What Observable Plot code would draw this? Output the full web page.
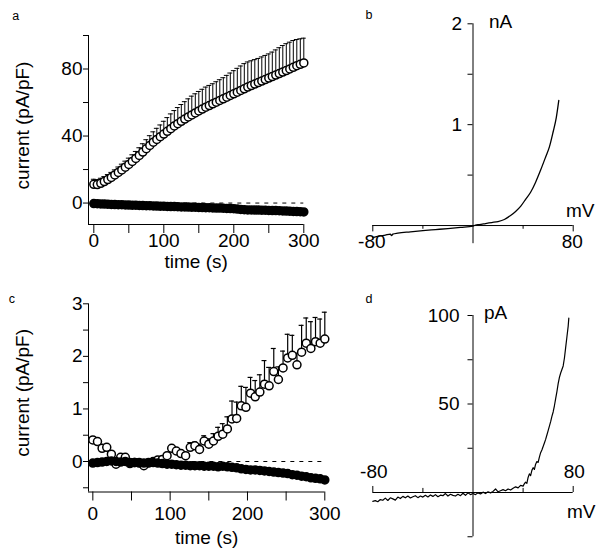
<!DOCTYPE html>
<html><head><meta charset="utf-8">
<script src="https://cdn.jsdelivr.net/npm/d3@7"></script>
<script src="https://cdn.jsdelivr.net/npm/@observablehq/plot@0.6"></script>
<style>
body{margin:0;background:#fff;}
#chart{position:relative;width:604px;height:556px;background:#fff;}
#chart svg{position:absolute;left:0;top:0;}
</style></head><body><div id="chart"></div>
<script>
// ---------- Panel a data ----------
const timeA = [0,5,10,15,20,25,30,35,40,45,50,55,60,65,70,75,80,85,90,95,100,105,110,115,120,125,130,135,140,145,150,155,160,165,170,175,180,185,190,195,200,205,210,215,220,225,230,235,240,245,250,255,260,265,270,275,280,285,290,295,300];
const openA = [11.2,11.0,11.8,12.8,14.0,15.3,16.8,18.3,19.8,21.4,23.0,24.8,26.6,28.4,30.4,32.4,34.4,36.3,38.0,39.6,41.2,42.8,44.4,46.0,47.4,48.8,50.1,51.4,52.6,53.8,55.0,56.1,57.2,58.2,59.2,60.2,61.2,62.2,63.2,64.2,65.2,66.2,67.2,68.2,69.2,70.1,71.0,71.9,72.8,73.7,74.6,75.5,76.4,77.3,78.2,79.1,80.0,81.0,82.0,82.8,83.6];
const seA = [3,3,3,3,3,3,3,3.2,3.4,3.6,3.8,4,4.2,4.6,5,5.4,5.8,6.2,6.6,7,7.6,8.2,8.8,9.2,9.6,10,10.4,10.8,11.2,11.4,11.6,11.8,12,12,12,12.2,12.4,12.6,13,13.4,13.8,14.2,14.6,15,15,14.8,14.6,14.4,14.4,14.4,14.4,14.6,15,15.4,15.8,16,16,16,15.6,15.2,14.8];
const filledA = [-0.3,-0.4,-0.5,-0.6,-0.7,-0.8,-0.9,-1.0,-1.0,-1.1,-1.2,-1.3,-1.3,-1.4,-1.5,-1.6,-1.6,-1.7,-1.8,-1.9,-1.9,-2.0,-2.1,-2.1,-2.2,-2.3,-2.3,-2.4,-2.5,-2.5,-2.6,-2.7,-2.8,-2.8,-2.9,-3.0,-3.0,-3.1,-3.2,-3.3,-3.4,-3.6,-3.8,-4.0,-4.1,-4.1,-4.2,-4.2,-4.3,-4.3,-4.4,-4.5,-4.5,-4.6,-4.7,-4.8,-4.9,-5.0,-5.1,-5.2,-5.3];
const tickA_x = [0,50,100,150,200,250,300];
const tickA_y = [0,20,40,60,80,100];

// ---------- Panel c data ----------
const timeC = [0,6,12,18,24,30,36,42,48,54,60,66,72,78,84,90,96,102,108,114,120,126,132,138,144,150,156,162,168,174,180,186,192,198,204,210,216,222,228,234,240,246,252,258,264,270,276,282,288,294,300];
const openC = [0.41,0.38,0.25,0.27,0.14,-0.05,0.08,0.08,-0.04,-0.02,-0.02,-0.08,-0.02,0.0,0.03,0.04,0.11,0.25,0.2,0.15,0.11,0.27,0.3,0.23,0.39,0.33,0.39,0.48,0.52,0.62,0.81,0.82,1.06,1.03,1.30,1.23,1.32,1.47,1.44,1.71,1.56,1.78,1.97,2.02,1.84,2.08,2.25,2.15,2.28,2.25,2.33];
const seC = [0.03,0.03,0.03,0.03,0.03,0.03,0.03,0.03,0.03,0.03,0.03,0.03,0.03,0.03,0.03,0.03,0.03,0.03,0.03,0.03,0.05,0.09,0.07,0.1,0.1,0.1,0.14,0.17,0.2,0.23,0.34,0.31,0.37,0.38,0.3,0.31,0.33,0.45,0.35,0.44,0.24,0.32,0.45,0.38,0.22,0.51,0.48,0.51,0.46,0.46,0.51];
const filledC = [-0.03,-0.02,-0.01,0.0,0.01,0.0,-0.01,0.0,-0.02,-0.02,-0.03,-0.03,-0.03,-0.02,-0.03,-0.04,-0.05,-0.05,-0.06,-0.07,-0.07,-0.08,-0.08,-0.08,-0.09,-0.09,-0.09,-0.1,-0.09,-0.1,-0.11,-0.12,-0.14,-0.15,-0.16,-0.16,-0.17,-0.18,-0.19,-0.2,-0.21,-0.22,-0.23,-0.25,-0.26,-0.28,-0.29,-0.31,-0.32,-0.33,-0.35];
const tickC_x = [0,50,100,150,200,250,300];
const tickC_y = [-0.5,0,0.5,1,1.5,2,2.5,3];

// ---------- Panel b data ----------
const mvB = [-80,-75,-70,-66,-65,-64,-60,-50,-40,-30,-20,-10,0,2,5,10,15,20,25,30,34,38,42,46,50,54,58,61,64,66.5,68.5];
const naB = [-0.12,-0.105,-0.095,-0.085,-0.1,-0.085,-0.075,-0.062,-0.05,-0.04,-0.03,-0.018,-0.005,0.005,0.01,0.02,0.03,0.04,0.06,0.1,0.14,0.19,0.26,0.33,0.43,0.55,0.68,0.78,0.93,1.07,1.24];
const tickB_y = [0.5,1,1.5,2];
const labelB_y = [1,2];
const tickB_x = [-80,-40,40,80];
const labelB_x = [-80,80];

// ---------- Panel d data ----------
const mvD = [-80,-78,-76,-74,-72,-70,-68,-66,-64,-62,-60,-58,-56,-54,-52,-50,-48,-46,-44,-42,-40,-38,-36,-34,-32,-30,-28,-26,-24,-22,-20,-18,-16,-14,-12,-10,-8,-6,-4,-2,0,2,4,6,8,10,12,14,16,18,20,22,24,26,28,30,32,34,36,38,40,41,42,43,44,45,46,47,48,49,50,51,52,53,54,55,56,57,58,59,60,61,62,63,64,65,66,67,68,69,70,71,72,73,74,75,76,76.5];
const paD = [-5.0,-4.6,-5.2,-4.0,-4.4,-3.2,-4.5,-3.0,-3.6,-4.3,-2.6,-3.4,-2.2,-3.0,-2.0,-3.1,-2.4,-1.8,-2.9,-2.0,-2.6,-1.6,-2.5,-1.4,-2.2,-1.2,-2.4,-1.5,-1.8,-0.6,-2.0,-1.0,-1.6,-2.0,-1.0,-1.8,-0.4,-1.6,-0.2,-1.2,-0.6,-1.2,-0.2,-0.8,0.2,-0.6,0.4,-0.2,0.6,2.0,0.4,1.0,1.6,1.0,2.0,1.4,2.4,3.2,2.6,4.0,3.6,5.0,5.8,5.2,8.5,10.5,9.5,12.5,14.0,13.0,16.0,17.5,17.0,20.0,22.5,24.0,26.0,28.0,30.0,32.5,35.0,37.5,40.0,43.0,45.5,49.0,53.0,57.0,61.5,65.0,67.5,69.5,71.5,76.0,82.0,88.0,94.0,98.5];
const tickD_y = [-25,25,50,75,100];
const labelD_y = [50,100];
const tickD_x = [-80,-40,40,80];
const labelD_x = [-80,80];

// ---------- build ----------
const FONT = "'Liberation Sans', Arial, Helvetica, sans-serif";
const FS = 19;
const common = {width: 604, height: 556,
  style: {background: "transparent", fontFamily: FONT, fontSize: FS + "px", color: "black", overflow: "visible"}};
const T = {textAnchor: "middle", lineAnchor: "middle"};

const rowsA = timeA.map((t, i) => ({t, open: openA[i], se: seA[i], filled: filledA[i]}));
const rowsC = timeC.map((t, i) => ({t, open: openC[i], se: seC[i], filled: filledC[i]}));
const rowsB = mvB.map((v, i) => ({v, c: naB[i]}));
const rowsD = mvD.map((v, i) => ({v, c: paD[i]}));

const XA = [-7.6, 300], YA = [-12.8, 100];
const plotA = Plot.plot({
  ...common,
  marginLeft: 88, marginRight: 604 - 303.3, marginTop: 35, marginBottom: 556 - 224,
  x: {domain: XA, ticks: tickA_x, tickFormat: d => d % 100 === 0 ? String(d) : "", tickSize: 9, tickPadding: 0, label: null},
  y: {domain: YA, ticks: tickA_y, tickFormat: d => d % 40 === 0 ? String(d) : "", tickSize: 5, tickPadding: 1, label: null},
  marks: [
    Plot.ruleX([XA[0]], {y1: YA[0], y2: YA[1]}),
    Plot.ruleY([YA[0]], {x1: XA[0], x2: XA[1]}),
    Plot.ruleY([0], {x1: 0, x2: 300, strokeDasharray: "4,5"}),
    Plot.dot(rowsA, {x: "t", y: "filled", r: 4, fill: "black", stroke: "black"}),
    Plot.ruleX(rowsA, {x: "t", y1: "open", y2: d => d.open + d.se}),
    Plot.ruleY(rowsA, {y: d => d.open + d.se, x1: d => d.t - 3.5, x2: d => d.t + 3.5}),
    Plot.dot(rowsA, {x: "t", y: "open", r: 4, fill: "white", stroke: "black"}),
    Plot.text(["current (pA/pF)"], {...T, text: d => d, frameAnchor: "left", rotate: -90, dx: -66, dy: -4.5, fontSize: FS}),
    Plot.text(["time (s)"], {...T, text: d => d, frameAnchor: "bottom", dy: 37, fontSize: FS}),
    Plot.text(["a"], {...T, textAnchor: "start", text: d => d, frameAnchor: "top-left", dx: -76.3, dy: -19.6, fontSize: 12.5})
  ]
});

const XC = [-5.6, 300], YC = [-0.58, 3];
const plotC = Plot.plot({
  ...common,
  marginLeft: 88, marginRight: 604 - 324.3, marginTop: 303.3, marginBottom: 556 - 491.5,
  x: {domain: XC, ticks: tickC_x, tickFormat: d => d % 100 === 0 ? String(d) : "", tickSize: 9, tickPadding: 5, label: null},
  y: {domain: YC, ticks: tickC_y, tickFormat: d => Number.isInteger(d) ? String(d) : "", tickSize: 5, tickPadding: 1, label: null},
  marks: [
    Plot.ruleX([XC[0]], {y1: YC[0], y2: YC[1]}),
    Plot.ruleY([YC[0]], {x1: XC[0], x2: XC[1]}),
    Plot.ruleY([0], {x1: 0, x2: 300, strokeDasharray: "4,5"}),
    Plot.ruleX(rowsC, {x: "t", y1: "open", y2: d => d.open + d.se, strokeWidth: 1.2}),
    Plot.ruleY(rowsC, {y: d => d.open + d.se, x1: d => d.t - 3.2, x2: d => d.t + 3.2, strokeWidth: 1.2}),
    Plot.dot(rowsC, {x: "t", y: "open", r: 4, fill: "white", stroke: "black"}),
    Plot.dot(rowsC, {x: "t", y: "filled", r: 4, fill: "black", stroke: "black"}),
    Plot.text(["current (pA/pF)"], {...T, text: d => d, frameAnchor: "left", rotate: -90, dx: -66, dy: -5, fontSize: FS}),
    Plot.text(["time (s)"], {...T, text: d => d, frameAnchor: "bottom", dy: 45.5, fontSize: FS}),
    Plot.text(["c"], {...T, textAnchor: "start", text: d => d, frameAnchor: "top-left", dx: -79.7, dy: -5.3, fontSize: 12.5})
  ]
});

const YB = [-0.18, 2];
const plotB = Plot.plot({
  ...common,
  marginLeft: 372.3, marginRight: 604 - 572.7, marginTop: 23.3, marginBottom: 556 - 243.2,
  x: {domain: [-80, 80], axis: null},
  y: {domain: YB, axis: null},
  marks: [
    Plot.ruleX([0], {y1: YB[0], y2: YB[1]}),
    Plot.ruleY(tickB_y, {y: d => d, x1: 0, x2: -4}),
    Plot.text(labelB_y, {text: d => String(d), x: 0, y: d => d, dx: -11, textAnchor: "end", fontSize: FS}),
    Plot.text(["nA"], {text: d => d, x: 0, y: YB[1], dx: 16, dy: -1.5, textAnchor: "start", fontSize: FS}),
    Plot.ruleY([0], {x1: -80, x2: 80}),
    Plot.ruleX(tickB_x, {x: d => d, y1: 0, y2: d => Math.abs(d) === 80 ? -0.063 : -0.037}),
    Plot.text(labelB_x, {text: d => String(d), x: d => d, y: 0, dx: -1, dy: 16, fontSize: FS}),
    Plot.text(["mV"], {text: d => d, x: 80, y: 0, dx: 7, dy: -15, fontSize: FS}),
    Plot.line(rowsB, {x: "v", y: "c", strokeWidth: 1.3, curve: "monotone-x"}),
    Plot.text(["b"], {...T, textAnchor: "start", text: d => d, frameAnchor: "top-left", dx: -7.3, dy: -8.8, fontSize: 12.5})
  ]
});

const YD = [-25, 100];
const plotD = Plot.plot({
  ...common,
  marginLeft: 372.3, marginRight: 604 - 572.7, marginTop: 315, marginBottom: 556 - 536.25,
  x: {domain: [-80, 80], axis: null},
  y: {domain: YD, axis: null},
  marks: [
    Plot.ruleX([0], {y1: YD[0], y2: YD[1]}),
    Plot.ruleY(tickD_y, {y: d => d, x1: 0, x2: -4}),
    Plot.text(labelD_y, {text: d => String(d), x: 0, y: d => d, dx: -13.5, textAnchor: "end", fontSize: FS}),
    Plot.text(["pA"], {text: d => d, x: 0, y: YD[1], dx: 11, dy: -2.5, textAnchor: "start", fontSize: FS}),
    Plot.ruleY([0], {x1: -80, x2: 80}),
    Plot.ruleX(tickD_x, {x: d => d, y1: 0, y2: d => Math.abs(d) === 80 ? 3.4 : 2.3}),
    Plot.text(labelD_x, {text: d => String(d), x: d => d, y: 0, dx: 1, dy: -21, fontSize: FS}),
    Plot.text(["mV"], {text: d => d, x: 80, y: 0, dx: 8, dy: 19, fontSize: FS}),
    Plot.line(rowsD, {x: "v", y: "c", strokeWidth: 1.2}),
    Plot.text(["d"], {...T, textAnchor: "start", text: d => d, frameAnchor: "top-left", dx: -7.3, dy: -16.5, fontSize: 12.5})
  ]
});

const chart = document.getElementById("chart");
[plotA, plotB, plotC, plotD].forEach(p => chart.appendChild(p));
</script>
</body></html>
